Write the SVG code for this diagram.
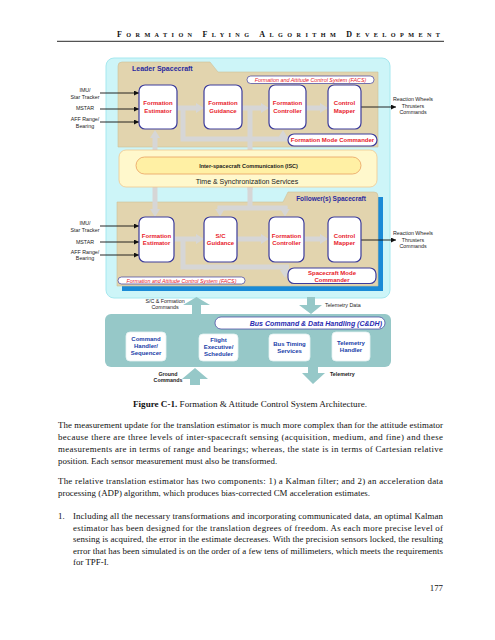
<svg xmlns="http://www.w3.org/2000/svg" width="495" height="640" viewBox="0 0 495 640">
<style>
.sans{font-family:"Liberation Sans",Arial,sans-serif}
.serif{font-family:"Liberation Serif","Times New Roman",serif}
.blk{fill:#fff;stroke:#3c3c9c;stroke-width:1.2}
.red{fill:#e8202a;font-weight:bold;font-size:6px;text-anchor:middle}
.in{fill:#222;font-size:5.3px;text-anchor:middle}
.ga{fill:none;stroke:#d6d6d6;stroke-width:5}
.bl{fill:none;stroke:#111;stroke-width:0.9}
.cb{fill:#fff;stroke:#e6f2f2;stroke-width:0.8}
.ct{fill:#2040a8;font-weight:bold;font-size:6px;text-anchor:middle}
.body{font-size:8.9px;fill:#111}
.teal{fill:#96c8c8}
</style>
<defs>
<marker id="gh" viewBox="0 0 8 10" refX="0" refY="5" markerWidth="8" markerHeight="10" markerUnits="userSpaceOnUse" orient="auto"><path d="M0,0 L8,5 L0,10 Z" fill="#d6d6d6"/></marker>
<marker id="bh" viewBox="0 0 6 6" refX="6" refY="3" markerWidth="5" markerHeight="5" markerUnits="userSpaceOnUse" orient="auto"><path d="M0,0 L6,3 L0,6 Z" fill="#111"/></marker>
</defs>
<rect width="495" height="640" fill="#fff"/>

<!-- header -->
<g id="header">
<text class="serif" x="117" y="37" textLength="323" lengthAdjust="spacing" font-weight="bold" fill="#111"><tspan font-size="8">F</tspan><tspan font-size="6.2">ORMATION </tspan><tspan font-size="8">F</tspan><tspan font-size="6.2">LYING </tspan><tspan font-size="8">A</tspan><tspan font-size="6.2">LGORITHM </tspan><tspan font-size="8">D</tspan><tspan font-size="6.2">EVELOPMENT</tspan></text>
<line x1="57" y1="41.3" x2="444" y2="41.3" stroke="#111" stroke-width="0.9"/>
</g>

<!-- containers -->
<g id="outer"><rect x="106" y="58" width="284" height="240" rx="8" fill="#cdf5f8" stroke="#a6e8ef" stroke-width="1"/></g>
<g id="leader">
<path d="M118,72 V66 Q118,62 122,62 H210 L218,72 H378 V147 H118 Z" fill="#e2d4ae" stroke="#cdbf98" stroke-width="0.6"/>
<text class="sans" x="132" y="71" font-size="7" font-weight="bold" fill="#2a2aa0">Leader Spacecraft</text>
<rect x="247" y="76" width="127" height="7.5" rx="3.7" fill="#fff" stroke="#3c3c9c" stroke-width="0.7"/>
<text class="sans" x="310.5" y="81.9" font-size="5.4" font-style="italic" fill="#e8202a" text-anchor="middle">Formation and Attitude Control System (FACS)</text>
</g>
<g id="follower">
<path d="M122,207 H288 L293,197 H383 V291 H122 Z" fill="#1a8ad6"/>
<path d="M117,202 H283 L288,192 H374 Q378,192 378,196 V286 H117 Z" fill="#e2d4ae" stroke="#cdbf98" stroke-width="0.6"/>
<text class="sans" x="331" y="200.5" font-size="6.5" font-weight="bold" fill="#2a2aa0" text-anchor="middle">Follower(s) Spacecraft</text>
<rect x="118" y="277" width="127" height="7" rx="3.5" fill="#fff" stroke="#3c3c9c" stroke-width="0.7"/>
<text class="sans" x="181.5" y="282.6" font-size="5.3" font-style="italic" fill="#e8202a" text-anchor="middle">Formation and Attitude Control System (FACS)</text>
</g>

<!-- connectors -->
<g id="connectors">
<path class="ga" d="M155,150 V187"/>
<path class="ga" d="M250,108 V190"/>
<path class="ga" d="M177,108 H196" marker-end="url(#gh)"/>
<path class="ga" d="M183,108 V139 H289"/>
<path class="ga" d="M283,140 V138" marker-end="url(#gh)"/>
<path class="ga" d="M242,108 H261" marker-end="url(#gh)"/>
<path class="ga" d="M306,108 H320" marker-end="url(#gh)"/>
<path class="ga" d="M155,150 V138" marker-end="url(#gh)"/>
<path class="ga" d="M155,187 V209" marker-end="url(#gh)"/>
<path class="ga" d="M250,187 V208 M217.5,208 H287.5"/>
<path class="ga" d="M220,207 V208.5" marker-end="url(#gh)"/>
<path class="ga" d="M285,207 V208.5" marker-end="url(#gh)"/>
<path class="ga" d="M174,239 H196" marker-end="url(#gh)"/>
<path class="ga" d="M183,239 V267 H289"/>
<path class="ga" d="M285,268 V270" marker-end="url(#gh)"/>
<path class="ga" d="M237,239 H261" marker-end="url(#gh)"/>
<path class="ga" d="M304,239 H320" marker-end="url(#gh)"/>
<line class="bl" x1="100" y1="93" x2="139" y2="93" marker-end="url(#bh)"/>
<line class="bl" x1="100" y1="109" x2="139" y2="109" marker-end="url(#bh)"/>
<line class="bl" x1="100" y1="122" x2="139" y2="122" marker-end="url(#bh)"/>
<line class="bl" x1="361" y1="107" x2="396" y2="107" marker-end="url(#bh)"/>
<line class="bl" x1="100" y1="226" x2="139" y2="226" marker-end="url(#bh)"/>
<line class="bl" x1="100" y1="242" x2="139" y2="242" marker-end="url(#bh)"/>
<line class="bl" x1="100" y1="255" x2="139" y2="255" marker-end="url(#bh)"/>
<line class="bl" x1="361" y1="240" x2="396" y2="240" marker-end="url(#bh)"/>
<polygon class="teal" points="192,314 192,305 183,305 196.5,297 210,305 201,305 201,314"/>
<polygon class="teal" points="307,297 315,297 315,305 322,305 311,314 299,305 307,305"/>
<polygon class="teal" points="190,385 190,379 182,379 195,368 208,379 200,379 200,385"/>
<polygon class="teal" points="308,367 318,367 318,373 325,373 313,384 302,373 308,373"/>
</g>

<!-- time & sync -->
<g id="tss">
<rect x="119" y="150" width="258" height="37" rx="7" fill="#fff8cc" stroke="#f0c890" stroke-width="0.8"/>
<text class="sans" x="247" y="184" font-size="7" fill="#222" text-anchor="middle">Time &amp; Synchronization Services</text>
</g>
<g id="isc">
<rect x="136" y="157" width="225" height="17" rx="8.5" fill="#fff0a4" stroke="#e8a060" stroke-width="0.8"/>
<text class="sans" x="248.5" y="167.8" font-size="5.5" font-weight="bold" fill="#222" text-anchor="middle">Inter-spacecraft Communication (ISC)</text>
</g>

<!-- leader blocks -->
<g id="l_est"><rect class="blk" x="139" y="85" width="38" height="44" rx="6"/><text class="sans red" x="158" y="105">Formation</text><text class="sans red" x="158" y="112.5">Estimator</text></g>
<g id="l_gui"><rect class="blk" x="204" y="85" width="38" height="44" rx="6"/><text class="sans red" x="223" y="105">Formation</text><text class="sans red" x="223" y="112.5">Guidance</text></g>
<g id="l_ctl"><rect class="blk" x="269" y="85" width="37" height="44" rx="6"/><text class="sans red" x="287.5" y="105">Formation</text><text class="sans red" x="287.5" y="112.5">Controller</text></g>
<g id="l_map"><rect class="blk" x="328" y="85" width="33" height="44" rx="6"/><text class="sans red" x="344.5" y="105">Control</text><text class="sans red" x="344.5" y="112.5">Mapper</text></g>
<g id="l_fmc"><rect class="blk" x="288" y="134" width="89" height="12" rx="6"/><text class="sans red" x="332.5" y="142.3" font-size="6.3">Formation Mode Commander</text></g>

<!-- follower blocks -->
<g id="f_est"><rect class="blk" x="139" y="217" width="35" height="45" rx="6"/><text class="sans red" x="156.5" y="237.5">Formation</text><text class="sans red" x="156.5" y="245">Estimator</text></g>
<g id="f_gui"><rect class="blk" x="204" y="217" width="33" height="45" rx="6"/><text class="sans red" x="220.5" y="237.5">S/C</text><text class="sans red" x="220.5" y="245">Guidance</text></g>
<g id="f_ctl"><rect class="blk" x="269" y="217" width="35" height="45" rx="6"/><text class="sans red" x="286.5" y="237.5">Formation</text><text class="sans red" x="286.5" y="245">Controller</text></g>
<g id="f_map"><rect class="blk" x="328" y="217" width="33" height="45" rx="6"/><text class="sans red" x="344.5" y="237.5">Control</text><text class="sans red" x="344.5" y="245">Mapper</text></g>
<g id="f_smc"><rect class="blk" x="288" y="268" width="88" height="15.5" rx="6"/><text class="sans red" x="332" y="274.8">Spacecraft Mode</text><text class="sans red" x="332" y="281.5">Commander</text></g>

<!-- external labels -->
<g id="l_inputs" class="sans">
<text class="in" x="85" y="92">IMU/</text><text class="in" x="85" y="98.5">Star Tracker</text>
<text class="in" x="85" y="110">MSTAR</text>
<text class="in" x="85" y="121">AFF Range/</text><text class="in" x="85" y="127.5">Bearing</text>
<text class="in" x="413" y="101">Reaction Wheels</text><text class="in" x="413" y="107.5">Thrusters</text><text class="in" x="413" y="114">Commands</text>
</g>
<g id="f_inputs" class="sans">
<text class="in" x="85" y="225">IMU/</text><text class="in" x="85" y="231.5">Star Tracker</text>
<text class="in" x="85" y="243.5">MSTAR</text>
<text class="in" x="85" y="253.5">AFF Range/</text><text class="in" x="85" y="260">Bearing</text>
<text class="in" x="413" y="235">Reaction Wheels</text><text class="in" x="413" y="241.5">Thrusters</text><text class="in" x="413" y="248">Commands</text>
</g>

<!-- C&DH -->
<g id="cdh">
<rect x="105" y="314" width="286" height="53" rx="6" fill="#96c8c8"/>
<rect x="215" y="317" width="170" height="12" rx="6" fill="#fff" stroke="#3c3c9c" stroke-width="0.7"/>
<text class="sans" x="382" y="325.6" font-size="7" font-weight="bold" font-style="italic" fill="#2a2ab0" text-anchor="end">Bus Command &amp; Data Handling (C&amp;DH)</text>
</g>
<g id="cmdh"><rect class="cb" x="126" y="332" width="40" height="29" rx="4"/><text class="sans ct" x="146" y="340.5">Command</text><text class="sans ct" x="146" y="347.5">Handler/</text><text class="sans ct" x="146" y="354.5">Sequencer</text></g>
<g id="fexec"><rect class="cb" x="199" y="334" width="39" height="27" rx="4"/><text class="sans ct" x="218.5" y="341.5">Flight</text><text class="sans ct" x="218.5" y="348.5">Executive/</text><text class="sans ct" x="218.5" y="355.5">Scheduler</text></g>
<g id="btime"><rect class="cb" x="269" y="334" width="41" height="27" rx="4"/><text class="sans ct" x="289.5" y="346">Bus Timing</text><text class="sans ct" x="289.5" y="353">Services</text></g>
<g id="tlmh"><rect class="cb" x="332" y="332" width="38" height="29" rx="4"/><text class="sans ct" x="351" y="344.5">Telemetry</text><text class="sans ct" x="351" y="351.5">Handler</text></g>
<g id="cdh_labels" class="sans">
<text class="in" x="165" y="303">S/C &amp; Formation</text><text class="in" x="165" y="309">Commands</text>
<text class="in" x="325" y="306.5" style="text-anchor:start">Telemetry Data</text>
<text class="in" x="168" y="376" font-weight="bold">Ground</text><text class="in" x="168" y="382" font-weight="bold">Commands</text>
<text class="in" x="330" y="376" font-weight="bold" style="text-anchor:start">Telemetry</text>
</g>

<!-- caption and body -->
<g id="text" class="serif">
<text x="250" y="407" font-size="9.1" fill="#111" text-anchor="middle"><tspan font-weight="bold">Figure C-1.</tspan>  Formation &amp; Attitude Control System Architecture.</text>
<text class="body" x="58" y="428" textLength="385" lengthAdjust="spacing">The measurement update for the translation estimator is much more complex than for the attitude estimator</text>
<text class="body" x="58" y="440" textLength="385" lengthAdjust="spacing">because there are three levels of inter-spacecraft sensing (acquisition, medium, and fine) and these</text>
<text class="body" x="58" y="452" textLength="385" lengthAdjust="spacing">measurements are in terms of range and bearings; whereas, the state is in terms of Cartesian relative</text>
<text class="body" x="58" y="464">position. Each sensor measurement must also be transformed.</text>
<text class="body" x="58" y="484" textLength="385" lengthAdjust="spacing">The relative translation estimator has two components: 1) a Kalman filter; and 2) an acceleration data</text>
<text class="body" x="58" y="496">processing (ADP) algorithm, which produces bias-corrected CM acceleration estimates.</text>
<text class="body" x="58" y="519">1.</text>
<text class="body" x="73" y="519" textLength="370" lengthAdjust="spacing">Including all the necessary transformations and incorporating communicated data, an optimal Kalman</text>
<text class="body" x="73" y="530.5" textLength="370" lengthAdjust="spacing">estimator has been designed for the translation degrees of freedom. As each more precise level of</text>
<text class="body" x="73" y="542" textLength="370" lengthAdjust="spacing">sensing is acquired, the error in the estimate decreases. With the precision sensors locked, the resulting</text>
<text class="body" x="73" y="553.5" textLength="370" lengthAdjust="spacing">error that has been simulated is on the order of a few tens of millimeters, which meets the requirements</text>
<text class="body" x="73" y="565">for TPF-I.</text>
<text class="body" x="443" y="591" text-anchor="end">177</text>
</g>
</svg>
